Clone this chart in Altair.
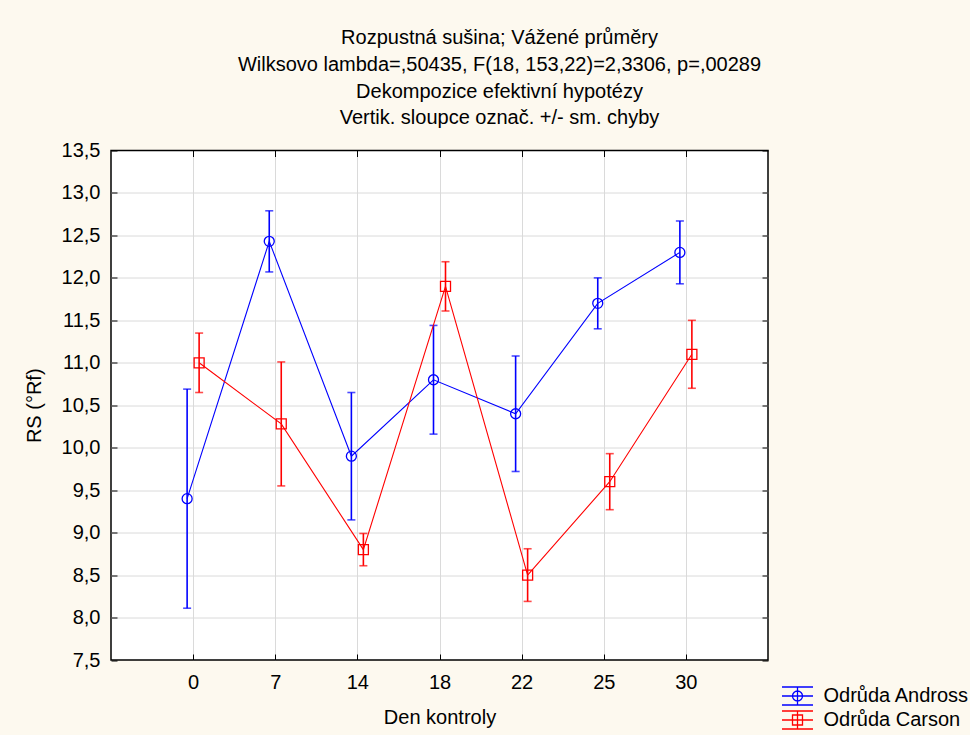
import altair as alt
import pandas as pd

# ---- data ----
days = ["0", "7", "14", "18", "22", "25", "30"]
series_names = ["Odrůda Andross", "Odrůda Carson"]
andross_mean = [9.40, 12.43, 9.90, 10.80, 10.40, 11.70, 12.30]
andross_err = [1.29, 0.36, 0.75, 0.64, 0.68, 0.30, 0.37]
carson_mean = [11.00, 10.28, 8.80, 11.90, 8.50, 9.60, 11.10]
carson_err = [0.35, 0.73, 0.19, 0.29, 0.31, 0.33, 0.40]
y_ticks = [7.5, 8.0, 8.5, 9.0, 9.5, 10.0, 10.5, 11.0, 11.5, 12.0, 12.5, 13.0, 13.5]
title_lines = [
    "Rozpustná sušina; Vážené průměry",
    "Wilksovo lambda=,50435, F(18, 153,22)=2,3306, p=,00289",
    "Dekompozice efektivní hypotézy",
    "Vertik. sloupce označ. +/- sm. chyby",
]

rows = []
for name, means, errs in [(series_names[0], andross_mean, andross_err),
                          (series_names[1], carson_mean, carson_err)]:
    for d, m, e in zip(days, means, errs):
        rows.append({"day": d, "series": name, "mean": m, "lo": m - e, "hi": m + e})
df = pd.DataFrame(rows)

FONT = "Liberation Sans"
FS = 20
colors = ["#0000FF", "#FF0000"]
shapes = ["circle", "square"]
offsets = [-6, 6]

x_scale = alt.Scale(type="point", domain=days, padding=1)
y_scale = alt.Scale(domain=[7.5, 13.5], nice=False, zero=False)

grid_color = {"condition": {"test": "datum.value <= 7.5 || datum.value >= 13.5", "value": "transparent"},
              "value": "#DADADA"}

x_axis = alt.Axis(title="Den kontroly", labelAngle=0, ticks=False, domain=False,
                  grid=True, gridColor="#DADADA", labelPadding=12, titlePadding=15)
y_axis = alt.Axis(title="RS (°Rf)", values=y_ticks, ticks=False, domain=False,
                  grid=True, gridColor=grid_color, labelPadding=11, titlePadding=17,
                  labelExpr="replace(format(datum.value, '.1f'), '.', ',')")


def X():
    return alt.X("day:N", sort=days, scale=x_scale, axis=x_axis)


def Y(field):
    return alt.Y(f"{field}:Q", scale=y_scale, axis=y_axis)


# legend glyphs: error bar + line + marker, in symbol unit coordinates
p_andross = ("M-1.55,-0.9L1.55,-0.9M-1.55,0L1.55,0M-1.55,0.9L1.55,0.9M0,-0.9L0,0.9"
             "M0.5,0A0.5,0.5,0,1,1,-0.5,0A0.5,0.5,0,1,1,0.5,0")
p_carson = ("M-1.55,-0.9L1.55,-0.9M-1.55,0L1.55,0M-1.55,0.9L1.55,0.9M0,-0.9L0,0.9"
            "M-0.5,-0.5L0.5,-0.5L0.5,0.5L-0.5,0.5Z")

legend = alt.Legend(
    title=None, orient="none", legendX=675.5, legendY=534.5, padding=0,
    labelFont=FONT, labelFontSize=FS, labelColor="black", labelOffset=15,
    symbolSize=400, symbolStrokeWidth=1.3, rowPadding=0, labelLimit=300,
)

base = alt.Chart(df)
layers = []
for i, name in enumerate(series_names):
    src = base.transform_filter(alt.datum.series == name)
    c, o = colors[i], offsets[i]
    layers.append(src.mark_rule(color=c, strokeWidth=1.6, xOffset=o)
                  .encode(x=X(), y=Y("lo"), y2="hi:Q"))
    layers.append(src.mark_tick(color=c, orient="horizontal", size=8, thickness=1.6, xOffset=o)
                  .encode(x=X(), y=Y("lo")))
    layers.append(src.mark_tick(color=c, orient="horizontal", size=8, thickness=1.6, xOffset=o)
                  .encode(x=X(), y=Y("hi")))
    layers.append(src.mark_line(color=c, strokeWidth=1.1, xOffset=o)
                  .encode(x=X(), y=Y("mean")))
for i, name in enumerate(series_names):
    src = base.transform_filter(alt.datum.series == name)
    layers.append(src.mark_point(shape=shapes[i], color=colors[i], size=100, strokeWidth=1.3,
                                 filled=False, opacity=1, xOffset=offsets[i])
                  .encode(x=X(), y=Y("mean")))

# legend-only layer (no rows drawn)
layers.append(
    base.transform_filter("false").mark_point(filled=False, opacity=1, strokeWidth=1.3).encode(
        x=X(), y=Y("mean"),
        color=alt.Color("series:N", scale=alt.Scale(domain=series_names, range=colors), legend=legend),
        shape=alt.Shape("series:N", scale=alt.Scale(domain=series_names, range=[p_andross, p_carson]),
                        legend=legend),
    )
)

main = alt.layer(*layers)


def tick_layer(x_orient, y_orient):
    return base.mark_point(opacity=0).encode(
        x=alt.X("day:N", sort=days, scale=x_scale,
                axis=alt.Axis(orient=x_orient, offset=-6, labels=False, domain=False, grid=False,
                              ticks=True, tickSize=6, tickColor="black", tickWidth=1, title=None)),
        y=alt.Y("mean:Q", scale=y_scale,
                axis=alt.Axis(orient=y_orient, offset=-6, values=y_ticks, labels=False, domain=False,
                              grid=False, ticks=True, tickSize=6, tickColor="black", tickWidth=1,
                              title=None)),
    )


chart = alt.layer(main, tick_layer("top", "left"), tick_layer("bottom", "right")).resolve_scale(
    x="independent", y="independent"
).properties(
    width=657, height=509.5,
    title=alt.Title(text=title_lines, font=FONT, fontSize=FS, fontWeight="normal", color="black",
                    lineHeight=26.7, anchor="middle", dx=60, offset=12),
    autosize=alt.AutoSizeParams(type="none"),
    padding={"left": 111, "top": 150.5, "right": 202, "bottom": 75},
    background="#FDF9EF",
).configure_view(
    fill="white", stroke="black", strokeWidth=1.5
).configure_axis(
    labelFont=FONT, labelFontSize=FS, labelColor="black",
    titleFont=FONT, titleFontSize=FS, titleColor="black", titleFontWeight="normal",
    gridWidth=1,
)

chart.save("out.html", embed_options={"renderer": "svg", "actions": False})
